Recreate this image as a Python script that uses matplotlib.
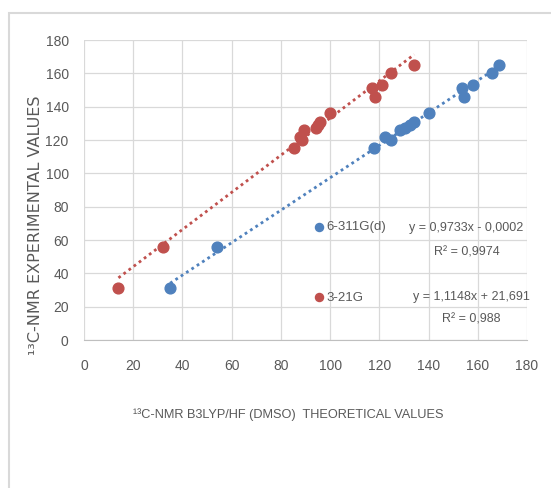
import numpy as np
import matplotlib
matplotlib.use('Agg')
import matplotlib.pyplot as plt
from matplotlib.patches import Rectangle

# experimental shifts (same for both basis sets)
y_exp = [31, 56, 115, 120, 122, 126, 127, 129, 131, 136, 146, 151, 153, 160, 165]
# theoretical shifts
x_6311 = [35, 54, 118, 124.6, 122.5, 128.3, 130.5, 132.5, 134, 140, 154.2, 153.5, 158, 165.7, 168.5]
x_321 = [14, 32, 85.4, 88.4, 87.9, 89.5, 94.3, 95, 96, 100.1, 118.1, 117, 121.2, 124.6, 134.2]

# trendline coefficients shown on the chart
fit_6311 = (0.9733, -0.0002)
fit_321 = (1.1148, 21.691)
eq_6311 = ['y = 0,9733x - 0,0002', 'R² = 0,9974']
eq_321 = ['y = 1,1148x + 21,691', 'R² = 0,988']

blue = '#4f81bd'
red = '#c0504d'
grey = '#595959'
narrow = ['Liberation Sans', 'DejaVu Sans']

plt.rcParams['font.family'] = narrow

fig = plt.figure(figsize=(5.51, 4.88), dpi=100, facecolor='white')
fig.patches.append(Rectangle((9/551, -0.2), 1.2, 1.2 - 13/488, transform=fig.transFigure,
                             fill=False, edgecolor='#d9d9d9', linewidth=1.5))

ax = fig.add_axes([84/551, 1 - 340/488, 443/551, 300/488])
ax.set_xlim(0, 180)
ax.set_ylim(0, 180)
ax.set_xticks(np.arange(0, 181, 20))
ax.set_yticks(np.arange(0, 181, 20))
ax.grid(True, color='#d9d9d9', linewidth=0.9)
ax.set_axisbelow(True)
for s in ['top', 'right', 'left']:
    ax.spines[s].set_visible(False)
ax.spines['bottom'].set_color('#bfbfbf')
ax.tick_params(length=0, labelsize=10, labelcolor=grey)
ax.tick_params(axis='x', pad=14)
ax.tick_params(axis='y', pad=11)

# trendlines
for xs, (m, b), c in [(x_6311, fit_6311, blue), (x_321, fit_321, red)]:
    xx = np.array([min(xs), max(xs)])
    ax.plot(xx, m*xx + b, linestyle=(0, (1, 1.3)), color=c, linewidth=2, zorder=2)

h1 = ax.scatter(x_6311, y_exp, s=60, color=blue, zorder=3, label='6-311G(d)')
h2 = ax.scatter(x_321, y_exp, s=60, color=red, zorder=3, label='3-21G')

ax.legend(handles=[h1, h2], loc='upper left', bbox_to_anchor=(0.489, 0.437), frameon=False,
          labelspacing=4.45, handletextpad=0.05, handlelength=1.0, markerscale=0.75,
          prop={'size': 9.5, 'family': narrow}, labelcolor=grey)

ax.text(0.862, 0.373, eq_6311[0], transform=ax.transAxes, ha='center', va='center', fontsize=9, color=grey)
ax.text(0.865, 0.293, eq_6311[1], transform=ax.transAxes, ha='center', va='center', fontsize=9, color=grey)
ax.text(0.874, 0.143, eq_321[0], transform=ax.transAxes, ha='center', va='center', fontsize=9, color=grey)
ax.text(0.874, 0.067, eq_321[1], transform=ax.transAxes, ha='center', va='center', fontsize=9, color=grey)

fig.text(36/551, 1 - 225/488, '¹³C-NMR EXPERIMENTAL VALUES', rotation=90, ha='center', va='center',
         fontsize=11.5, color=grey, family=['DejaVu Sans'])
fig.text(288.5/551, 1 - 415/488, '¹³C-NMR B3LYP/HF (DMSO)  THEORETICAL VALUES', ha='center', va='center',
         fontsize=9.2, color=grey)

plt.savefig('out.png', dpi=100, facecolor='white')
